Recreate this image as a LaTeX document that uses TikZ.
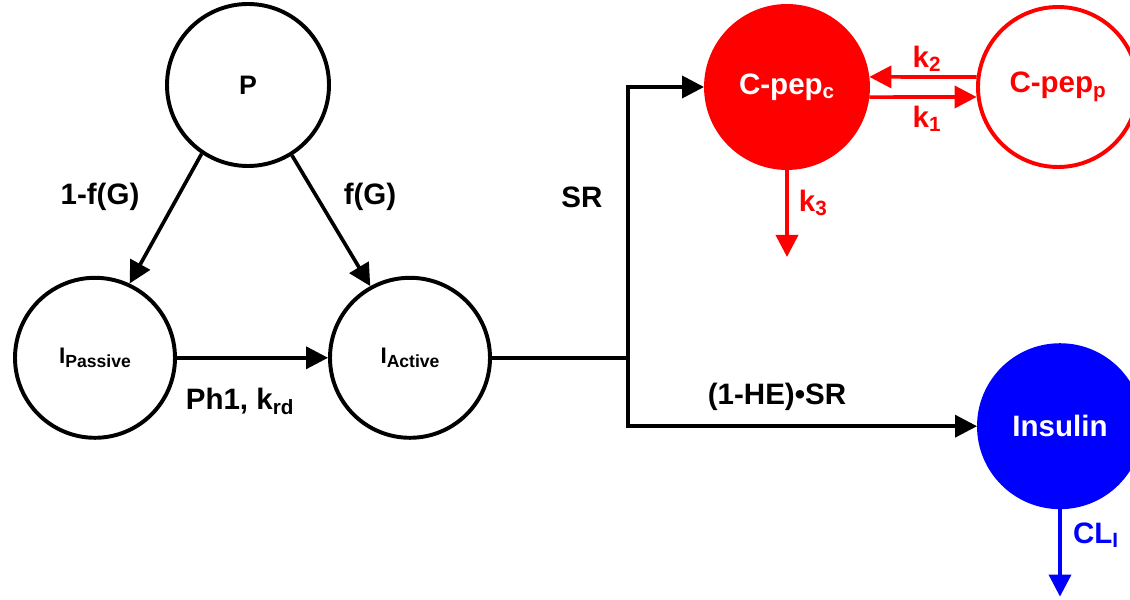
\documentclass[tikz,border=0pt]{standalone}
\usepackage{fontspec}
\setmainfont{Liberation Sans}
\usetikzlibrary{arrows.meta,positioning}

\newcommand{\lowsub}[1]{\raisebox{-0.3ex}{\fontsize{12.5}{14}\selectfont #1}}

\begin{document}
\begin{tikzpicture}[
    comp/.style={circle, draw, line width=2.8pt, minimum size=4.05cm, inner sep=0pt},
    flow/.style={line width=2.6pt, -{Triangle[length=0.55cm, width=0.55cm]}},
    lbl/.style={font=\bfseries\fontsize{21}{25}\selectfont},
    islbl/.style={font=\bfseries\fontsize{16}{19}\selectfont}
]
    % Frame
    \useasboundingbox (0,0) rectangle (28.25,14.975);

    % Compartments
    \node[comp, font=\bfseries\fontsize{19}{23}\selectfont] (prov) at (6.2,12.85) {P};
    \node[comp, islbl, minimum size=4cm] (ipas) at (2.375,6.03) {I\lowsub{Passive}};
    \node[comp, islbl, minimum size=4cm] (iact) at (10.25,6.03) {I\lowsub{Active}};
    \node[comp, lbl, draw=red, fill=red, text=white] (cpc) at (19.675,12.8) {C-pep\textsubscript{c}};
    \node[comp, lbl, draw=red, text=red, minimum size=4cm] (cpp) at (26.45,12.8) {C-pep\textsubscript{p}};
    \node[comp, lbl, draw=blue, fill=blue, text=white] (ins) at (26.5,4.32) {Insulin};

    % Insulin secretion
    \draw[flow] (prov.236) -- (ipas.65);
    \draw[flow] (prov.302) -- (iact.119);
    \draw[flow] (ipas.east) -- (iact.west);
    \coordinate (split) at (15.7,6.03);
    \draw[flow] (iact.east) -- (split) |- (cpc.west);
    \draw[flow] (split) |- (ins.west);

    % Kinetics
    \draw[flow, red] (cpp.173) -- (cpc.7);
    \draw[flow, red] (cpc.-7) -- (cpp.187);
    \coordinate (k3end) at (19.675,8.55);
    \draw[flow, red] (cpc.south) -- (k3end);
    \coordinate (clend) at (26.5,0.06);
    \draw[flow, blue] (ins.south) -- (clend);

    % Labels
    \node[lbl] (lpas) at (2.5,10.05) {1-f(G)};
    \node[lbl] (lact) at (9.25,10.05) {f(G)};
    \node[lbl] (lph) at (6.0,4.95) {Ph1, k\textsubscript{rd}};
    \node[lbl] (lsr) at (14.55,10.05) {SR};
    \node[lbl] (lhe) at (19.425,5.05) {(1-HE)•SR};
    \node[lbl, red] (lk2) at (23.175,13.5) {k\textsubscript{2}};
    \node[lbl, red] (lk1) at (23.175,12.0) {k\textsubscript{1}};
    \node[lbl, red] (lk3) at (20.33,9.9) {k\textsubscript{3}};
    \node[lbl, blue] (lcl) at (27.4,1.6) {CL\textsubscript{I}};
\end{tikzpicture}
\end{document}
